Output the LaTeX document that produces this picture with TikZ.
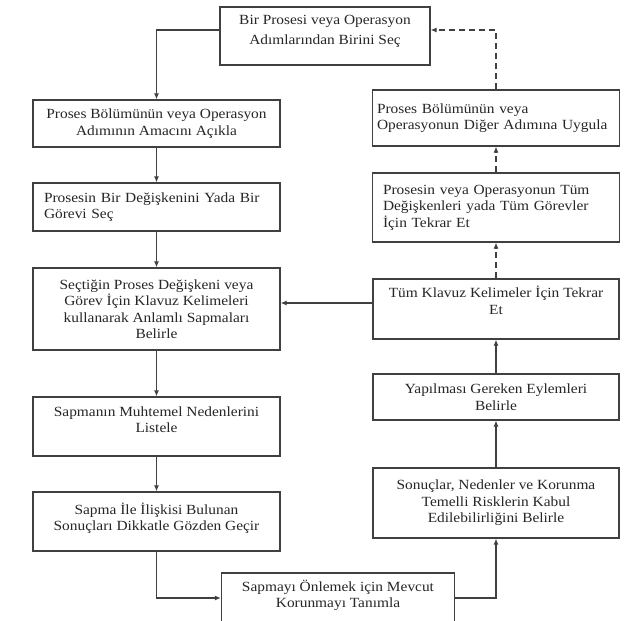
\documentclass[tikz,border=0pt]{standalone}
\usepackage{fontspec}
\setmainfont[FakeStretch=1.1]{Liberation Serif}
\usetikzlibrary{arrows.meta}

\begin{document}
\begin{tikzpicture}[
    x=1pt, y=-1pt,
    box/.style={rectangle, draw=black!75, line width=1.2pt, minimum width=247pt, inner sep=4pt,
        align=center, text=black!85, font=\rmfamily\fontsize{14}{16.5}\selectfont},
    leftbox/.style={box, align=left, text width=#1},
    lift/.style={text depth=#1},
    arrow/.style={-{Latex[length=6pt,width=5pt]}, line width=1.2pt, draw=black!75},
    dashline/.style={arrow, dash pattern=on 6pt off 4pt}
]
    \useasboundingbox[fill=white] (0,0) rectangle (627,621);

    % left column
    \node[box, minimum width=210pt, minimum height=58pt, lift=12pt] (secim) at (325,36) {Bir Prosesi veya Operasyon\\[3pt]Adımlarından Birini Seç};
    \node[box, minimum height=47pt] (amac) at (156.5,123.5) {Proses Bölümünün veya Operasyon\\Adımının Amacını Açıkla};
    \node[leftbox=225pt, inner xsep=11pt, minimum height=48pt] (degisken) at (156.5,207) {Prosesin Bir Değişkenini Yada Bir\\Görevi Seç};
    \node[box, minimum height=82pt] (sapma) at (156.5,309) {Seçtiğin Proses Değişkeni veya\\Görev İçin Klavuz Kelimeleri\\kullanarak Anlamlı Sapmaları\\Belirle};
    \node[box, minimum height=59pt, lift=14pt] (neden) at (156.5,426.5) {Sapmanın Muhtemel Nedenlerini\\Listele};
    \node[box, minimum height=59pt, lift=10pt] (sonuc) at (156.5,521.5) {Sapma İle İlişkisi Bulunan\\Sonuçları Dikkatle Gözden Geçir};
    \node[box, minimum width=233pt, minimum height=50pt, lift=8pt] (korunma) at (338,598) {Sapmayı Önlemek için Mevcut\\Korunmayı Tanımla};

    % right column
    \node[box, minimum width=246pt, minimum height=70pt] (kabul) at (496,503) {Sonuçlar, Nedenler ve Korunma\\Temelli Risklerin Kabul\\Edilebilirliğini Belirle};
    \node[box, minimum width=246pt, minimum height=46pt] (eylem) at (496,397) {Yapılması Gereken Eylemleri\\Belirle};
    \node[box, minimum width=246pt, minimum height=60pt, lift=18pt] (klavuz) at (496,309) {Tüm Klavuz Kelimeler İçin Tekrar\\Et};
    \node[leftbox=226pt, inner xsep=10pt, minimum height=69pt] (tekrar) at (496,207.5) {Prosesin veya Operasyonun Tüm\\Değişkenleri yada Tüm Görevler\\İçin Tekrar Et};
    \node[leftbox=238pt, inner xsep=4pt, minimum height=56pt] (uygula) at (496,118) {Proses Bölümünün veya\\Operasyonun Diğer Adımına Uygula};

    \draw[arrow] ([yshift=6pt]secim.west) -| (amac.north);
    \draw[arrow] (amac) -- (degisken);
    \draw[arrow] (degisken) -- (sapma);
    \draw[arrow] (sapma) -- (neden);
    \draw[arrow] (neden) -- (sonuc);
    \draw[arrow] (sonuc.south) |- (korunma.west);
    \draw[arrow] (korunma.east) -| (kabul.south);
    \draw[arrow] (kabul) -- (eylem);
    \draw[arrow] (eylem) -- (klavuz);
    \draw[arrow] ([yshift=6pt]klavuz.west) -- ([yshift=6pt]sapma.east);
    \draw[dashline] (klavuz) -- (tekrar);
    \draw[dashline] (tekrar) -- (uygula);
    \draw[dashline] (uygula.north) |- ([yshift=6pt]secim.east);
\end{tikzpicture}
\end{document}
